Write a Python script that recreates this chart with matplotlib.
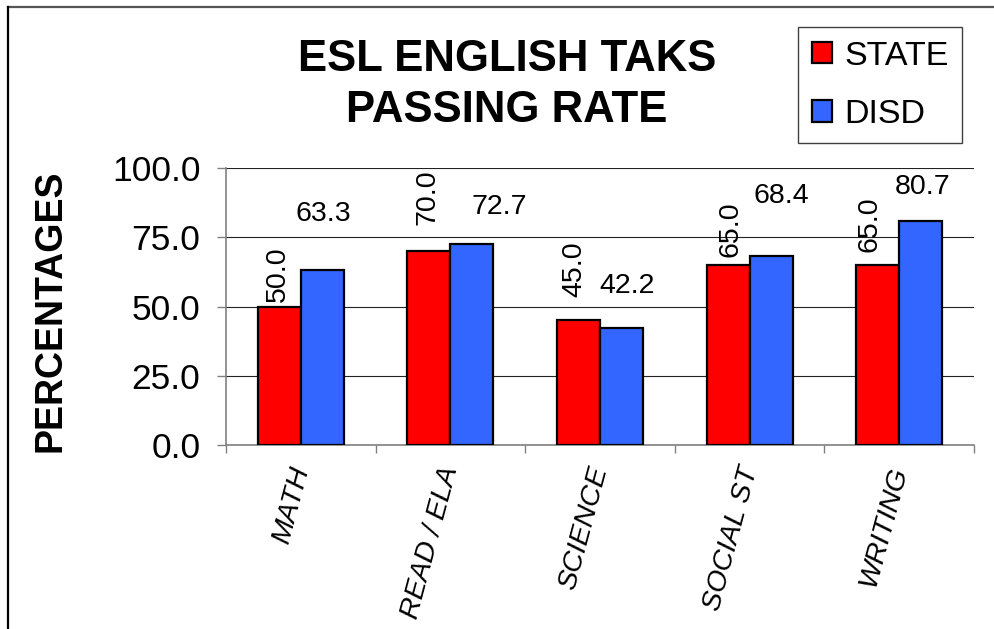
import matplotlib
matplotlib.use("Agg")
import matplotlib.pyplot as plt
from matplotlib.lines import Line2D
from matplotlib.transforms import ScaledTranslation
import numpy as np

plt.rcParams['font.family'] = ['Liberation Sans', 'DejaVu Sans']

# Data
subjects = ["MATH", "READ / ELA", "SCIENCE", "SOCIAL ST", "WRITING"]
state = [50.0, 70.0, 45.0, 65.0, 65.0]
disd = [63.3, 72.7, 42.2, 68.4, 80.7]
series_names = ["STATE", "DISD"]
yticks = [0, 25, 50, 75, 100]

# label nudges (points), mimicking the original label placement
state_dx = [-1, -1, -3, 2, -6]
state_dy = [3, 19, 17, 6, 9]
disd_dx = [1, 20, 4, 7, 1]
disd_dy = [35, 21, 25, 38, 20]

fig = plt.figure(figsize=(9.95, 6.29), dpi=100)
ax = fig.add_axes([226 / 995, 1 - 445 / 629, 748 / 995, 277 / 629])

x = np.arange(len(subjects))
w = 0.2875
b1 = ax.bar(x - w / 2, state, w, color="#FF0000", edgecolor="black", linewidth=1.6,
            label=series_names[0], zorder=3)
b2 = ax.bar(x + w / 2, disd, w, color="#3366FF", edgecolor="black", linewidth=1.6,
            label=series_names[1], zorder=3)

# value labels
for rect, v, dx, dy in zip(b1, state, state_dx, state_dy):
    ax.annotate(f"{v:.1f}", (rect.get_x() + rect.get_width() / 2, v),
                xytext=(dx, dy), textcoords="offset points", rotation=90,
                ha="center", va="bottom", fontsize=20.5)
for rect, v, dx, dy in zip(b2, disd, disd_dx, disd_dy):
    ax.annotate(f"{v:.1f}", (rect.get_x() + rect.get_width() / 2, v),
                xytext=(dx, dy), textcoords="offset points",
                ha="center", va="baseline", fontsize=20.5)

# axes styling
ax.set_xlim(-0.5, len(subjects) - 0.5)
ax.set_ylim(0, 100)
ax.set_yticks(yticks)
ax.set_yticklabels([f"{t:.1f}" for t in yticks], fontsize=25.5)
ax.tick_params(axis="y", direction="out", length=6.5, width=1, color="#808080", pad=12)
ax.yaxis.grid(True, color="#222222", linewidth=0.8, zorder=0)
ax.set_axisbelow(True)

ax.set_xticks(x)
ax.set_xticklabels(subjects, fontsize=20.5, style="italic", rotation=75,
                   ha="right", va="center", rotation_mode="anchor")
ax.tick_params(axis="x", which="major", length=0, pad=16)
shift = ScaledTranslation(0.5 / 72, 0, fig.dpi_scale_trans)
for lbl in ax.get_xticklabels():
    lbl.set_transform(lbl.get_transform() + shift)
ax.set_xticks(np.arange(len(subjects) + 1) - 0.5, minor=True)
ax.tick_params(axis="x", which="minor", direction="out", length=6, width=1, color="#808080")

for s in ["top", "right"]:
    ax.spines[s].set_visible(False)
for s in ["left", "bottom"]:
    ax.spines[s].set_color("#808080")
    ax.spines[s].set_linewidth(1.2)

ax.set_ylabel("PERCENTAGES", fontsize=27, fontweight="bold")
ax.yaxis.set_label_coords(-0.21, 0.485)

# title
fig.text(507 / 995, 1 - 85 / 629, "ESL ENGLISH TAKS\nPASSING RATE", ha="center", va="center",
         fontsize=31.5, fontweight="bold", linespacing=1.3)

# legend
leg = fig.legend(handles=[b1, b2], loc="upper right",
                 bbox_to_anchor=(962 / 995, 1 - 27 / 629), bbox_transform=fig.transFigure,
                 fontsize=24.5, frameon=True, fancybox=False, framealpha=1,
                 edgecolor="#404040", handlelength=0.6, handleheight=0.6,
                 handletextpad=0.35, labelspacing=0.8, borderpad=0.4, borderaxespad=0)
leg.get_frame().set_linewidth(1.0)

# outer frame (top and left edges only)
fig.add_artist(Line2D([8 / 995, 1], [1 - 7 / 629, 1 - 7 / 629], transform=fig.transFigure,
                      color="#555555", linewidth=1.6))
fig.add_artist(Line2D([8 / 995, 8 / 995], [0, 1 - 7 / 629], transform=fig.transFigure,
                      color="black", linewidth=1.6))

fig.savefig("out.png", dpi=100)
